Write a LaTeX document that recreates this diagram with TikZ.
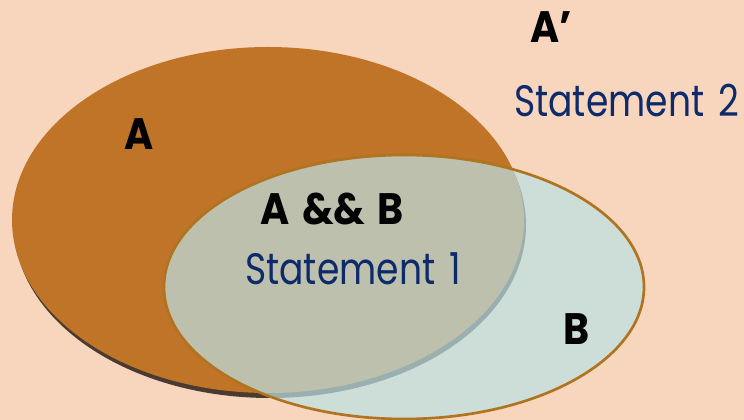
\documentclass[tikz,border=0pt]{standalone}
\usepackage{fontspec}
\setmainfont{Poppins}
\newfontfamily\stmtfont[FakeStretch=0.82, WordSpace=1.5]{Poppins}
\newfontfamily\setfont[FakeStretch=0.9, WordSpace=1.5]{Poppins}
\usepackage{xcolor}
\definecolor{peach}{RGB}{248,214,190}
\definecolor{setbrown}{RGB}{192,116,40}
\definecolor{shadowbrown}{RGB}{74,58,48}
\definecolor{setblue}{RGB}{188,224,227}
\definecolor{rimbrown}{RGB}{176,115,32}
\definecolor{stmtblue}{RGB}{13,42,107}

\begin{document}
\begin{tikzpicture}[x=0.75pt, y=-0.75pt,
  setlabel/.style={anchor=base west, inner sep=0pt, font=\setfont\fontsize{33}{36}\selectfont\bfseries, text=black},
  stmt/.style={anchor=base west, inner sep=0pt, font=\stmtfont\fontsize{33}{36}\selectfont, text=stmtblue}
]

% Background
\fill[peach] (0,0) rectangle (744,420);
\useasboundingbox (0,0) rectangle (744,420);

% Set A with its shadow
\fill[shadowbrown] (270,225) ellipse [x radius=256, y radius=173];
\fill[setbrown] (268,220) ellipse [x radius=256, y radius=173];

% Set B
\fill[setblue, fill opacity=0.71] (404,287) ellipse [x radius=240, y radius=132];
\draw[rimbrown, line width=2pt] (404,287) ellipse [x radius=240, y radius=132];

% Labels
\node[setlabel] (a)     at (124,150) {A};
\node[setlabel] (acomp) at (530,43)  {A’};
\node[stmt]     (st2)   at (514,117) {Statement 2};
\node[setlabel] (ab)    at (260,225) {A \&\& B};
\node[stmt]     (st1)   at (245,285) {Statement 1};
\node[setlabel] (b)     at (563,345) {B};

\end{tikzpicture}
\end{document}
